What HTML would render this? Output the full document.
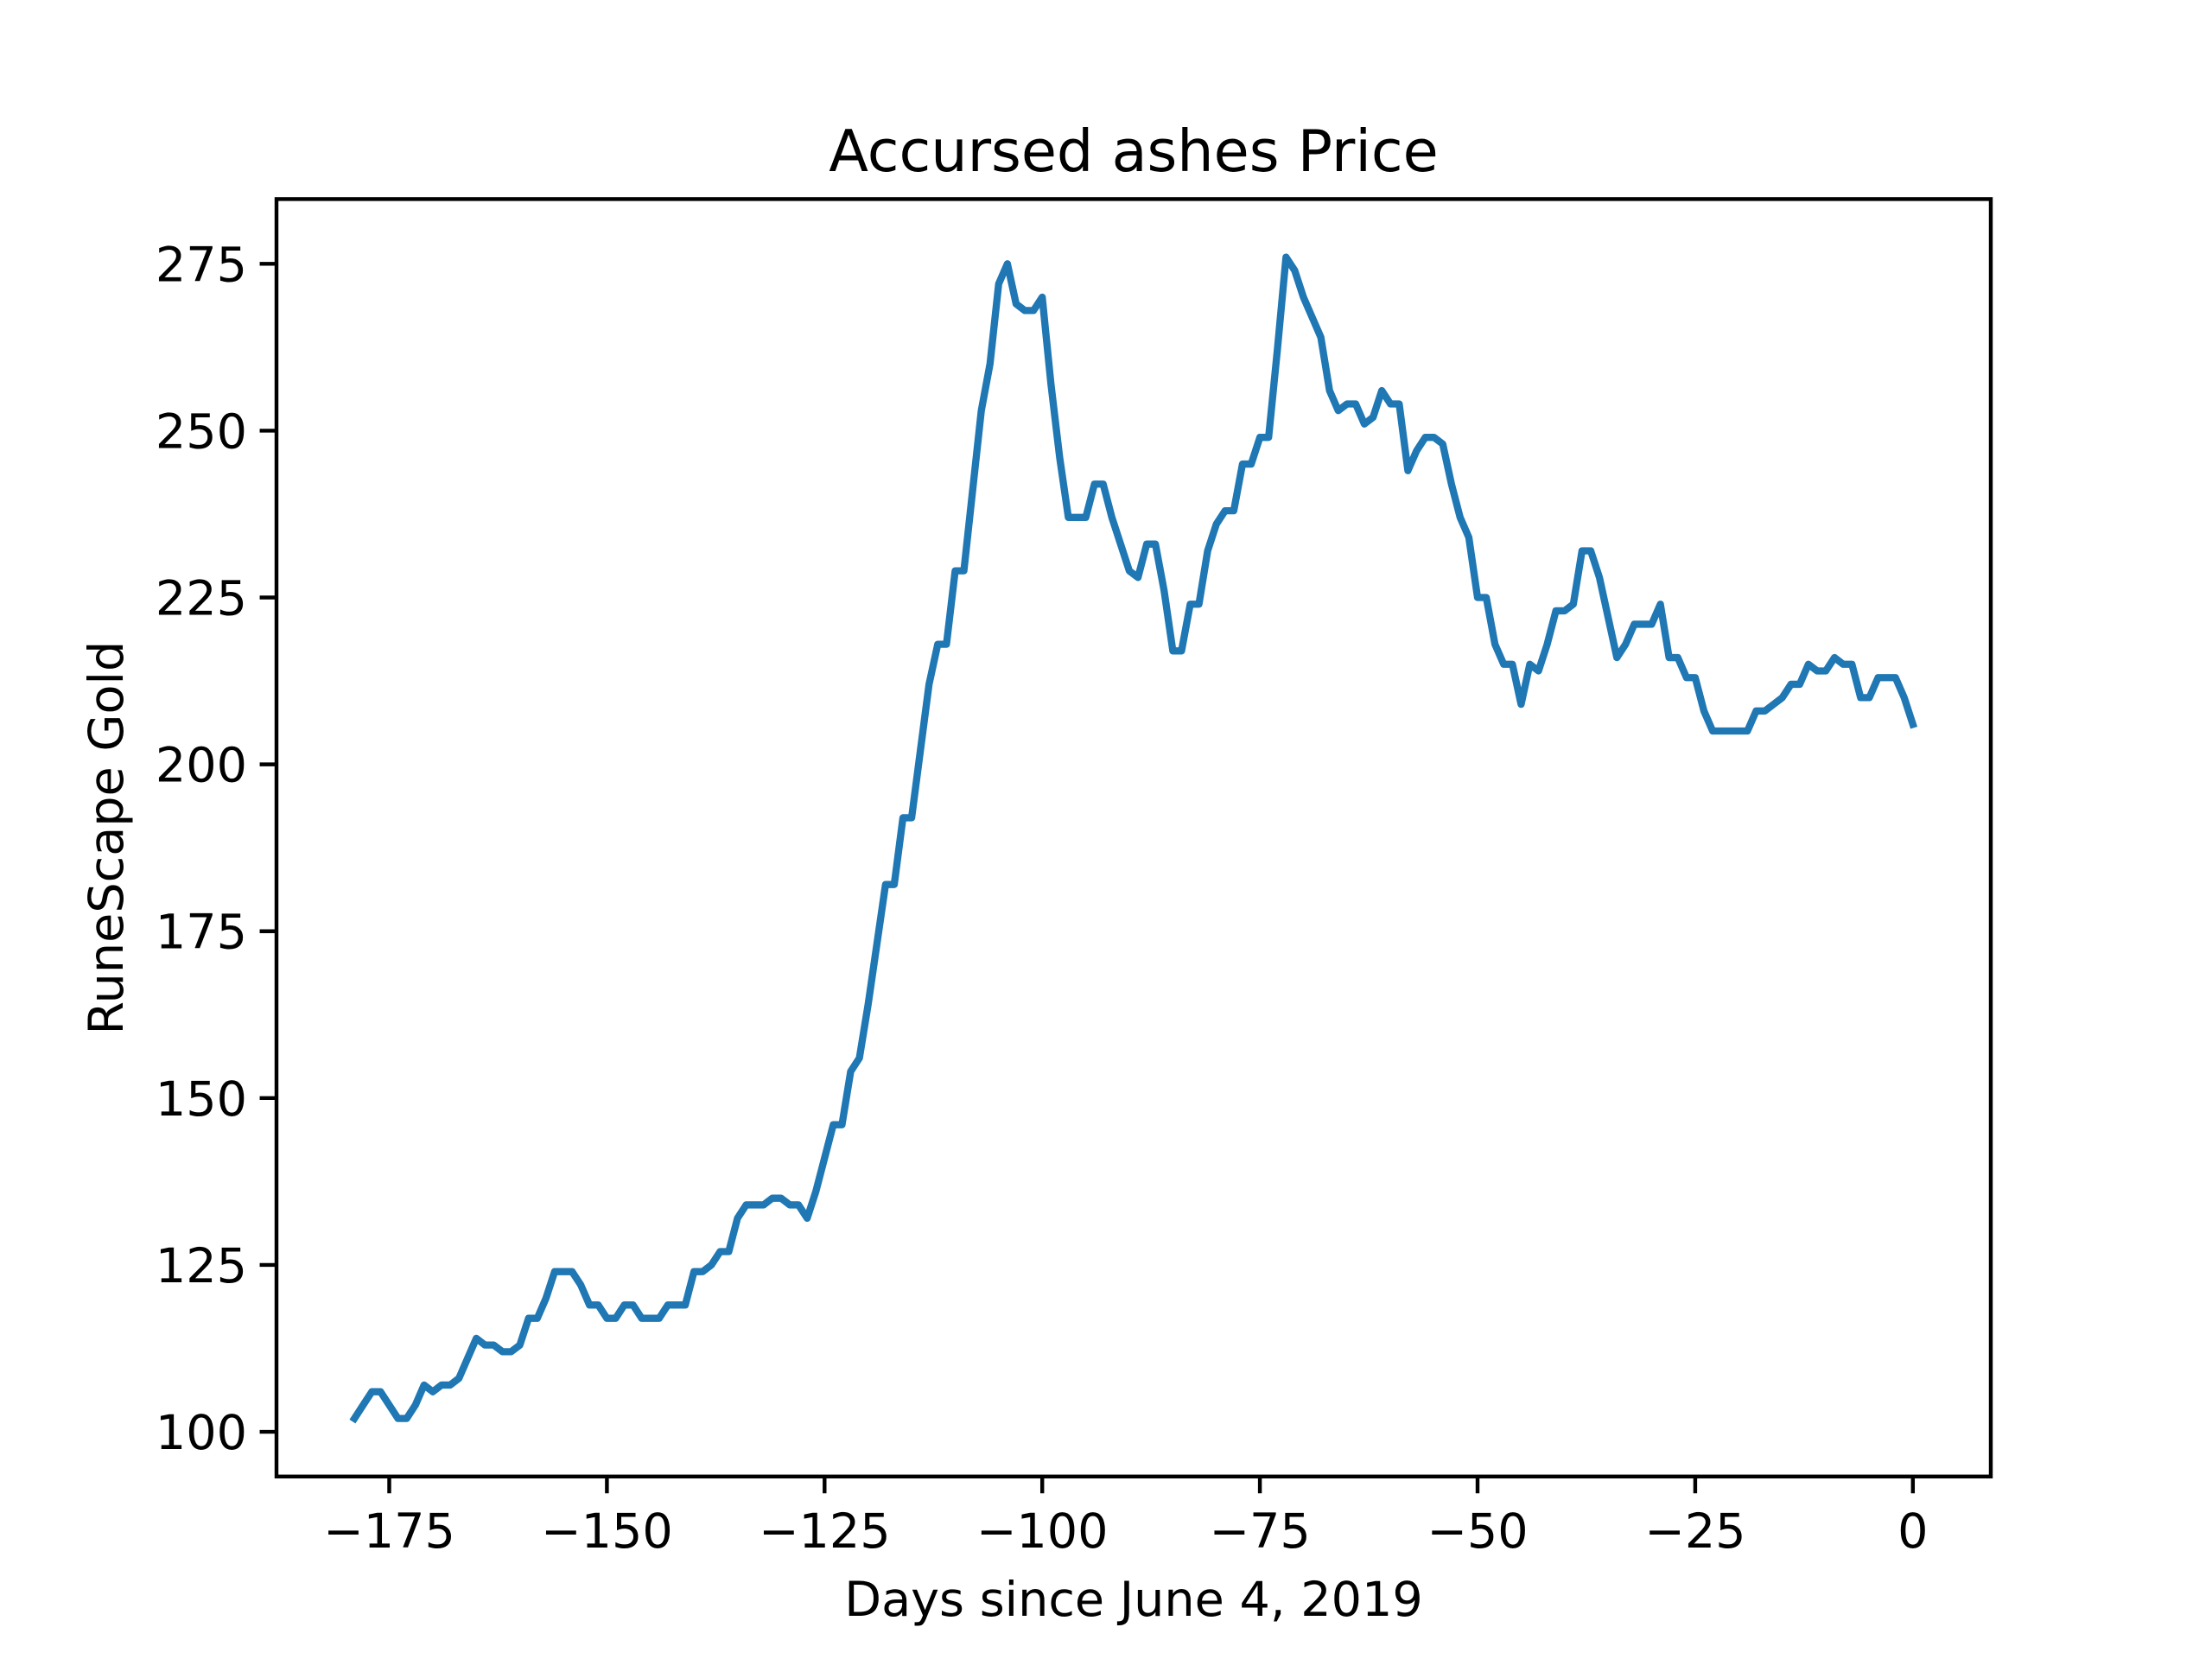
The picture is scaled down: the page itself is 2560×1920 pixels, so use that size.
<!DOCTYPE html>
<html><head><meta charset="utf-8"><style>html,body{margin:0;padding:0;background:#fff}svg{display:block}</style></head>
<body>
<svg id="chart" width="2560" height="1920" viewBox="0 0 640 480" xmlns="http://www.w3.org/2000/svg" font-family="'DejaVu Sans','Liberation Sans',sans-serif">
<rect width="640" height="480" fill="#fff"/>
<g id="axes"></g>
<text x="328" y="49.5" font-size="16.7" text-anchor="middle">Accursed ashes Price</text>
<text x="328" y="467.5" font-size="13.9" text-anchor="middle">Days since June 4, 2019</text>
<text transform="translate(35.5,242.4) rotate(-90)" font-size="13.9" text-anchor="middle">RuneScape Gold</text>
</svg>
<script>
const prices = [102,104,106,106,104,102,102,104,107,106,107,107,108,111,114,113,113,112,112,113,117,117,120,124,124,124,122,119,119,117,117,119,119,117,117,117,119,119,119,124,124,125,127,127,132,134,134,134,135,135,134,134,132,136,141,146,146,154,156,164,173,182,182,192,192,202,212,218,218,229,229,241,253,260,272,275,269,268,268,270,257,246,237,237,237,242,242,237,233,229,228,233,233,226,217,217,224,224,232,236,238,238,245,245,249,249,262,276,274,270,267,264,256,253,254,254,251,252,256,254,254,244,247,249,249,248,242,237,234,225,225,218,215,215,209,215,214,218,223,223,224,232,232,228,222,216,218,221,221,221,224,216,216,213,213,208,205,205,205,205,205,208,208,209,210,212,212,215,214,214,216,215,215,210,210,213,213,213,210,206];
const startDay = -179;
const xTicks = [-175,-150,-125,-100,-75,-50,-25,0];
const yTicks = [100,125,150,175,200,225,250,275];

const NS="http://www.w3.org/2000/svg";
const L=80,R=576,T=57.6,B=427.2;
const days = prices.map((_,i)=>startDay+i);
const xmin=Math.min(...days), xmax=Math.max(...days);
const ymin=Math.min(...prices), ymax=Math.max(...prices);
const xm=(xmax-xmin)*0.05, ym=(ymax-ymin)*0.05;
const X=d=>L+(d-(xmin-xm))/((xmax+xm)-(xmin-xm))*(R-L);
const Y=v=>B-(v-(ymin-ym))/((ymax+ym)-(ymin-ym))*(B-T);
const g=document.getElementById('axes');
function mk(tag,attrs){const e=document.createElementNS(NS,tag);for(const k in attrs)e.setAttribute(k,attrs[k]);g.appendChild(e);return e;}

const line=mk('polyline',{points:prices.map((v,i)=>X(days[i]).toFixed(2)+','+Y(v).toFixed(2)).join(' '),fill:'none',stroke:'#1f77b4','stroke-width':2.08,'stroke-linejoin':'round','stroke-linecap':'square'});



xTicks.forEach(t=>{
  const x=X(t);
  const tk=mk('line',{x1:x,x2:x,y1:B,y2:B+4.86,stroke:'#000','stroke-width':1.11});
  
  
  const tx=mk('text',{x:x,y:B+20.5,'font-size':13.9,'text-anchor':'middle'});
  tx.textContent=(t<0?'\u2212'+(-t):String(t));
  
  
});
yTicks.forEach(t=>{
  const y=Y(t);
  const tk=mk('line',{x1:L-4.86,x2:L,y1:y,y2:y,stroke:'#000','stroke-width':1.11});
  
  
  const tx=mk('text',{x:L-8.5,y:y+5,'font-size':13.9,'text-anchor':'end'});
  tx.textContent=String(t);
  
  
});
const frame=mk('rect',{x:L,y:T,width:R-L,height:B-T,fill:'none',stroke:'#000','stroke-width':1.11});


</script>
</body></html>
